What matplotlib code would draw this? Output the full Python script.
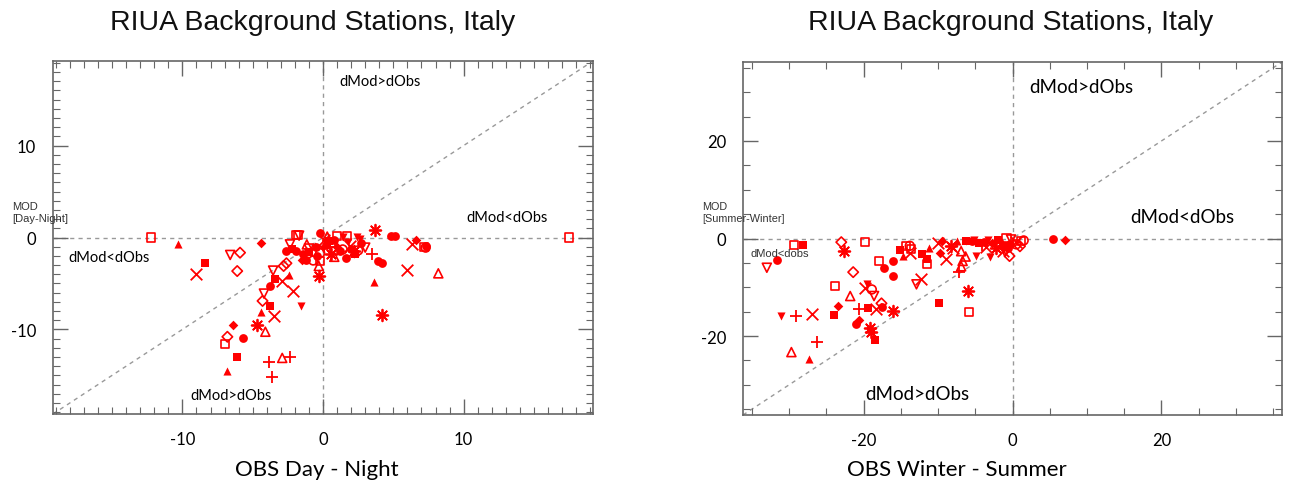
import matplotlib
matplotlib.use("Agg")
import matplotlib.pyplot as plt
from matplotlib.ticker import MultipleLocator

plt.rcParams["axes.unicode_minus"] = False

RED = "#ff0000"

# ---- Day - Night panel: (obs, mod) pairs per station marker ----
dn_filled_circle = [(-3.8, -5.3), (-5.7, -10.9), (4.8, 0.15), (5.1, 0.15), (4.2, -2.8), (3.9, -2.6),
                    (7.3, -0.9), (-0.2, 0.5), (-2.6, -1.5), (-1.9, -1.5), (-1.4, -1.8), (-1.2, -2.5),
                    (-0.5, -1.0), (0.2, -0.8), (0.8, -0.3), (1.2, -1.5), (1.6, -2.2), (2.0, -1.2),
                    (2.7, -0.6), (-0.4, -2.0)]
dn_filled_square = [(-8.4, -2.8), (-3.4, -4.5), (-3.8, -7.4), (-6.1, -13.0), (-1.0, -1.6), (0.4, -0.4),
                    (2.3, -1.8), (-2.2, -1.2)]
dn_filled_tri = [(-10.3, -0.75), (-2.4, -4.1), (-4.4, -8.1), (-6.8, -14.5), (3.6, -4.8), (-0.6, -0.9)]
dn_filled_diamond = [(-4.4, -0.6), (-6.4, -9.5), (6.6, -0.3), (-1.5, -2.4), (1.0, -1.0)]
dn_filled_dtri = [(-1.6, -7.45), (1.4, 0.1), (2.4, 0.1), (2.6, -0.2), (0.0, -1.3), (1.8, -0.5)]
dn_open_square = [(-12.2, 0.0), (17.5, 0.0), (-7.0, -11.6), (-1.95, 0.3), (-1.75, 0.3), (-0.2, -2.55),
                  (1.0, 0.2), (1.7, 0.2), (7.2, -1.0), (0.6, -0.6)]
dn_open_circle = [(-0.7, -2.5), (1.4, -1.3), (2.5, -1.4), (-0.2, -1.7), (7.3, -1.1)]
dn_open_diamond = [(-5.9, -1.65), (-6.1, -3.65), (-2.6, -2.8), (-4.3, -6.9), (-6.8, -10.8), (-2.8, -3.1)]
dn_open_tri = [(8.2, -3.9), (-4.1, -10.25), (-2.9, -13.1), (-1.15, -0.75), (-0.3, -3.1), (0.8, -2.1),
               (0.3, 0.1)]
dn_open_dtri = [(-6.6, -1.9), (-3.55, -3.6), (-4.2, -6.1), (-2.35, -0.75), (3.0, -1.1), (-1.7, 0.2),
                (-1.0, -1.2)]
dn_cross = [(-9.0, -4.0), (-2.95, -4.7), (-2.1, -5.8), (-3.5, -8.5), (6.0, -3.5), (6.3, -0.75),
            (0.1, -0.3), (1.9, -0.9)]
dn_plus = [(-3.85, -13.5), (-3.6, -15.2), (-2.35, -13.0), (3.5, -1.8), (0.5, -1.0)]
dn_star = [(-4.7, -9.5), (3.7, 0.86), (4.2, -8.4), (-0.25, -4.15), (0.6, -1.8), (2.2, -1.5)]

# ---- Winter - Summer panel ----
ws_filled_circle = [(-31.7, -4.4), (-21.0, -17.6), (-17.5, -14.0), (-17.2, -6.1), (-16.1, -4.6),
                    (-16.1, -7.6), (5.4, -0.1), (-0.4, -1.2), (-0.6, -2.0), (-5.5, -0.5), (-3.8, -0.8)]
ws_filled_square = [(-28.2, -1.4), (-24.0, -15.6), (-19.4, -14.2), (-18.5, -20.8), (-15.1, -2.3),
                    (-12.1, -3.1), (-11.5, -4.3), (-9.9, -13.3), (-6.3, -0.6), (-4.5, -1.0),
                    (-2.0, -0.4), (-1.2, -1.6)]
ws_filled_tri = [(-27.4, -24.7), (-14.7, -3.6), (-11.2, -1.9), (-7.4, -0.6)]
ws_filled_diamond = [(-23.5, -13.9), (-20.6, -16.8), (-9.8, -2.9), (-9.5, -0.5), (7.1, -0.4), (-2.8, -0.9)]
ws_filled_dtri = [(-31.1, -15.8), (-19.5, -9.4), (-6.2, -0.55), (-4.9, -3.5), (-3.0, -3.75),
                  (-5.2, -0.3), (-3.3, -0.3)]
ws_open_square = [(-29.3, -1.4), (-19.8, -0.75), (-23.9, -9.8), (-17.9, -4.6), (-14.3, -1.6),
                  (-13.6, -2.1), (-11.5, -5.3), (-5.8, -15.1), (-0.8, 0.1), (1.2, -0.55)]
ws_open_circle = [(-18.9, -10.45), (-13.8, -1.5), (0.5, -1.2), (1.5, -0.4), (-1.8, -0.9)]
ws_open_diamond = [(-23.0, -0.75), (-21.4, -6.9), (-17.6, -13.3), (-0.4, -3.6), (1.0, -1.6)]
ws_open_tri = [(-21.8, -11.8), (-29.7, -23.3), (-6.9, -2.6), (-6.3, -3.7), (-6.9, -5.7), (-6.7, -4.6)]
ws_open_dtri = [(-33.0, -6.0), (-18.6, -11.8), (-12.9, -9.4), (-0.2, -0.2), (-1.0, -2.8)]
ws_cross = [(-26.9, -15.4), (-19.8, -10.1), (-18.4, -14.5), (-13.8, -2.9), (-10.0, -0.9), (-8.9, -4.3),
            (-12.3, -8.4), (-8.0, -1.9), (-1.3, -2.6), (0.5, -0.8), (-3.6, -1.8)]
ws_plus = [(-29.1, -15.8), (-26.2, -21.2), (-20.6, -14.5), (-7.2, -6.9), (-4.1, -1.3)]
ws_star = [(-22.6, -2.6), (-19.1, -18.3), (-19.0, -19.2), (-16.1, -14.9), (-6.0, -10.8), (-8.2, -1.6),
           (-2.2, -1.9)]

dn_sets = [dn_filled_circle, dn_filled_square, dn_filled_tri, dn_filled_diamond, dn_filled_dtri,
           dn_open_square, dn_open_circle, dn_open_diamond, dn_open_tri, dn_open_dtri,
           dn_cross, dn_plus, dn_star]
ws_sets = [ws_filled_circle, ws_filled_square, ws_filled_tri, ws_filled_diamond, ws_filled_dtri,
           ws_open_square, ws_open_circle, ws_open_diamond, ws_open_tri, ws_open_dtri,
           ws_cross, ws_plus, ws_star]

# marker, filled, size (points^2)
styles = [("o", True, 40), ("s", True, 30), ("^", True, 34), ("D", True, 24), ("v", True, 34),
          ("s", False, 34), ("o", False, 40), ("D", False, 28), ("^", False, 42), ("v", False, 42),
          ("x", None, 70), ("+", None, 75), ((8, 2, 0), None, 70)]

TITLE = "RIUA Background Stations, Italy"
LBL_FONT = "Lato"
SPINE = "#666666"


def draw_panel(ax, sets, lim, major, minor):
    ax.set_xlim(-lim, lim)
    ax.set_ylim(-lim, lim)
    ref = dict(color="#999999", lw=1.0, ls=(0, (3, 3)), zorder=1)
    ax.axhline(0, **ref)
    ax.axvline(0, **ref)
    ax.plot([-lim, lim], [-lim, lim], **ref)
    for pts, (mk, filled, size) in zip(sets, styles):
        xs = [p[0] for p in pts]
        ys = [p[1] for p in pts]
        if filled is None:
            ax.scatter(xs, ys, marker=mk, s=size, color=RED, linewidths=1.3, zorder=3)
        elif filled:
            ax.scatter(xs, ys, marker=mk, s=size, color=RED, linewidths=0, zorder=3)
        else:
            ax.scatter(xs, ys, marker=mk, s=size, facecolors="none", edgecolors=RED,
                       linewidths=1.2, zorder=3)
    ax.xaxis.set_major_locator(MultipleLocator(major))
    ax.yaxis.set_major_locator(MultipleLocator(major))
    ax.xaxis.set_minor_locator(MultipleLocator(minor))
    ax.yaxis.set_minor_locator(MultipleLocator(minor))
    ax.tick_params(which="both", direction="in", top=True, right=True, color=SPINE,
                   labelsize=12, labelcolor="black", pad=12)
    ax.tick_params(which="major", length=11, width=1.0)
    ax.tick_params(which="minor", length=5, width=0.8)
    for lab in ax.get_xticklabels() + ax.get_yticklabels():
        lab.set_fontfamily(LBL_FONT)
    for sp in ax.spines.values():
        sp.set_color(SPINE)
        sp.set_linewidth(1.2)


fig = plt.figure(figsize=(12.9, 4.89), dpi=100)
ax1 = fig.add_axes([53 / 1290, 74 / 489, 540 / 1290, 353 / 489])
ax2 = fig.add_axes([743 / 1290, 73 / 489, 539 / 1290, 353 / 489])

draw_panel(ax1, dn_sets, 19.2, 10, 1)
draw_panel(ax2, ws_sets, 36.2, 20, 5)

# quadrant annotations
ann = dict(family=LBL_FONT, color="black", va="center")
ax1.text(0.53, 0.943, "dMod>dObs", transform=ax1.transAxes, fontsize=10.5, **ann)
ax1.text(0.765, 0.558, "dMod<dObs", transform=ax1.transAxes, fontsize=10.5, **ann)
ax1.text(0.028, 0.445, "dMod<dObs", transform=ax1.transAxes, fontsize=10.5, **ann)
ax1.text(0.254, 0.054, "dMod>dObs", transform=ax1.transAxes, fontsize=10.5, **ann)

ax2.text(0.532, 0.932, "dMod>dObs", transform=ax2.transAxes, fontsize=13.5, **ann)
ax2.text(0.718, 0.561, "dMod<dObs", transform=ax2.transAxes, fontsize=13.5, **ann)
ax2.text(0.013, 0.459, "dMod<dobs", transform=ax2.transAxes, fontsize=8,
         family="Liberation Sans", color="#333333", va="center")
ax2.text(0.226, 0.062, "dMod>dObs", transform=ax2.transAxes, fontsize=13.5, **ann)

# y axis captions
fig.text(12 / 1290, 1 - 213 / 489, "MOD\n[Day-Night]", fontsize=8, family="Liberation Sans",
         color="#333333", va="center", ha="left", linespacing=1.3)
fig.text(702 / 1290, 1 - 213 / 489, "MOD\n[Summer-Winter]", fontsize=7.8, family="Liberation Sans",
         color="#333333", va="center", ha="left", linespacing=1.3)

# titles and x captions
fig.text(313 / 1290, 1 - 23 / 489, TITLE, fontsize=20.5, family="Liberation Sans",
         ha="center", va="center", color="#111111")
fig.text(1011 / 1290, 1 - 23 / 489, TITLE, fontsize=20.5, family="Liberation Sans",
         ha="center", va="center", color="#111111")
fig.text(317 / 1290, 1 - 470 / 489, "OBS Day - Night", fontsize=16, family=LBL_FONT,
         ha="center", va="center")
fig.text(957 / 1290, 1 - 470 / 489, "OBS Winter - Summer", fontsize=16, family=LBL_FONT,
         ha="center", va="center")

fig.savefig("out.png", dpi=100)
